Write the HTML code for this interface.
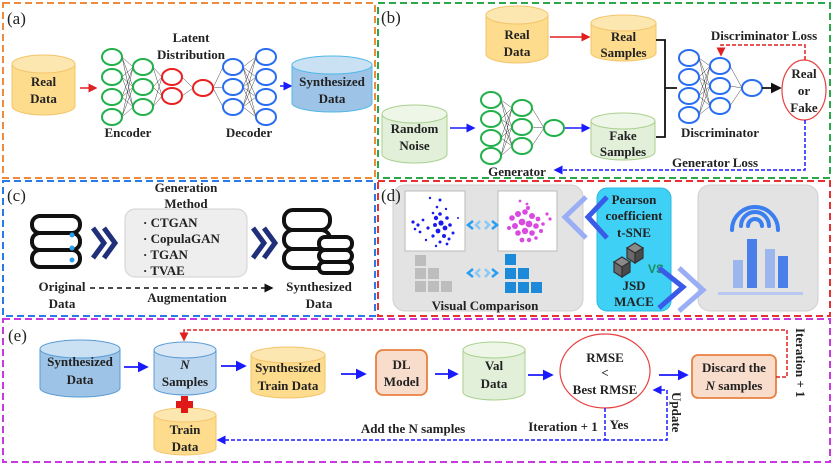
<!DOCTYPE html>
<html><head><meta charset="utf-8"><style>
html,body{margin:0;padding:0;background:#fff;}
svg{display:block;}
text{font-family:"Liberation Serif",serif;font-weight:bold;fill:#222;}
</style></head><body>
<svg width="834" height="466" viewBox="0 0 834 466" xmlns="http://www.w3.org/2000/svg">
<defs>
<marker id="ar" markerWidth="6" markerHeight="6" refX="5" refY="3" orient="auto"><path d="M0,0 L6,3 L0,6 z" fill="#e02020"/></marker>
<marker id="ab" markerWidth="6" markerHeight="6" refX="5" refY="3" orient="auto"><path d="M0,0 L6,3 L0,6 z" fill="#1a1aff"/></marker>
<marker id="ak" markerWidth="6" markerHeight="6" refX="5" refY="3" orient="auto"><path d="M0,0 L6,3 L0,6 z" fill="#111"/></marker>
</defs>

<rect x="3" y="3" width="372" height="175" fill="none" stroke="#f08a3c" stroke-width="2" stroke-dasharray="7,4"/>
<rect x="378" y="3" width="452" height="175" fill="none" stroke="#2aa84a" stroke-width="2" stroke-dasharray="7,4"/>
<rect x="3" y="181" width="372" height="135" fill="none" stroke="#2a7ae8" stroke-width="2" stroke-dasharray="7,4"/>
<rect x="378" y="181" width="452" height="135" fill="none" stroke="#e83030" stroke-width="2" stroke-dasharray="7,4"/>
<rect x="3" y="319" width="827" height="143" fill="none" stroke="#c83ae0" stroke-width="2" stroke-dasharray="7,4"/>

<!-- (a) -->
<text x="7" y="24" font-size="17" style="font-weight:normal">(a)</text>
<path d="M12 64 V106 A31.5 9 0 0 0 75 106 V64" fill="#fddc8e" stroke="#f3c46a"/>
<ellipse cx="43.5" cy="64" rx="31.5" ry="9" fill="#fde7b0" stroke="#f3c46a"/>
<text x="43.5" y="86" font-size="13" text-anchor="middle">Real</text>
<text x="43.5" y="103" font-size="13" text-anchor="middle">Data</text>
<line x1="80" y1="88" x2="96" y2="88" stroke="#e02020" stroke-width="1.5" marker-end="url(#ar)"/>
<g stroke="#444" stroke-width="0.5">
<line x1="122" y1="57" x2="133" y2="67"/><line x1="122" y1="57" x2="133" y2="87"/><line x1="122" y1="57" x2="133" y2="107"/>
<line x1="122" y1="77" x2="133" y2="67"/><line x1="122" y1="77" x2="133" y2="87"/><line x1="122" y1="77" x2="133" y2="107"/>
<line x1="122" y1="97" x2="133" y2="67"/><line x1="122" y1="97" x2="133" y2="87"/><line x1="122" y1="97" x2="133" y2="107"/>
<line x1="122" y1="117" x2="133" y2="67"/><line x1="122" y1="117" x2="133" y2="87"/><line x1="122" y1="117" x2="133" y2="107"/>
<line x1="153" y1="67" x2="162" y2="77"/><line x1="153" y1="87" x2="162" y2="77"/><line x1="153" y1="107" x2="162" y2="77"/>
<line x1="153" y1="67" x2="162" y2="96"/><line x1="153" y1="87" x2="162" y2="96"/><line x1="153" y1="107" x2="162" y2="96"/>
<line x1="182" y1="77" x2="193" y2="88"/><line x1="182" y1="96" x2="193" y2="88"/>
<line x1="213" y1="88" x2="223" y2="67"/><line x1="213" y1="88" x2="223" y2="87"/><line x1="213" y1="88" x2="223" y2="107"/>
<line x1="243" y1="67" x2="256" y2="57"/><line x1="243" y1="67" x2="256" y2="77"/><line x1="243" y1="67" x2="256" y2="97"/><line x1="243" y1="67" x2="256" y2="117"/>
<line x1="243" y1="87" x2="256" y2="57"/><line x1="243" y1="87" x2="256" y2="77"/><line x1="243" y1="87" x2="256" y2="97"/><line x1="243" y1="87" x2="256" y2="117"/>
<line x1="243" y1="107" x2="256" y2="57"/><line x1="243" y1="107" x2="256" y2="77"/><line x1="243" y1="107" x2="256" y2="97"/><line x1="243" y1="107" x2="256" y2="117"/>
</g>
<g fill="#fff" stroke-width="2">
<g stroke="#22b04a">
<ellipse cx="112" cy="57" rx="10" ry="8"/><ellipse cx="112" cy="77" rx="10" ry="8"/><ellipse cx="112" cy="97" rx="10" ry="8"/><ellipse cx="112" cy="117" rx="10" ry="8"/>
<ellipse cx="143" cy="67" rx="10" ry="8"/><ellipse cx="143" cy="87" rx="10" ry="8"/><ellipse cx="143" cy="107" rx="10" ry="8"/>
</g>
<g stroke="#e82020">
<ellipse cx="172" cy="77" rx="10" ry="8"/><ellipse cx="172" cy="96" rx="10" ry="8"/><ellipse cx="203" cy="88" rx="10" ry="8"/>
</g>
<g stroke="#2a6ef0">
<ellipse cx="233" cy="67" rx="10" ry="8"/><ellipse cx="233" cy="87" rx="10" ry="8"/><ellipse cx="233" cy="107" rx="10" ry="8"/>
<ellipse cx="266" cy="57" rx="10" ry="8"/><ellipse cx="266" cy="77" rx="10" ry="8"/><ellipse cx="266" cy="97" rx="10" ry="8"/><ellipse cx="266" cy="117" rx="10" ry="8"/>
</g>
</g>
<text x="191" y="42" font-size="13" text-anchor="middle">Latent</text>
<text x="191" y="59" font-size="13" text-anchor="middle">Distribution</text>
<text x="128" y="137" font-size="13" text-anchor="middle">Encoder</text>
<text x="249" y="137" font-size="13" text-anchor="middle">Decoder</text>
<line x1="280" y1="86" x2="291" y2="86" stroke="#1a1aff" stroke-width="1.5" marker-end="url(#ab)"/>
<path d="M292 65 V103 A40 9 0 0 0 372 103 V65" fill="#9dc3e6" stroke="#4fb8e8"/>
<ellipse cx="332" cy="65" rx="40" ry="9" fill="#c9e1f3" stroke="#4fb8e8"/>
<text x="332" y="86" font-size="13" text-anchor="middle">Synthesized</text>
<text x="332" y="103" font-size="13" text-anchor="middle">Data</text>

<!-- (b) -->
<text x="381" y="23" font-size="17" style="font-weight:normal">(b)</text>
<path d="M486 15 V54 A31 9 0 0 0 548 54 V15" fill="#fddc8e" stroke="#f3c46a"/>
<ellipse cx="517" cy="15" rx="31" ry="9" fill="#fde7b0" stroke="#f3c46a"/>
<text x="517" y="39" font-size="13" text-anchor="middle">Real</text>
<text x="517" y="56" font-size="13" text-anchor="middle">Data</text>
<line x1="550" y1="37" x2="589" y2="37" stroke="#e02020" stroke-width="1.5" marker-end="url(#ar)"/>
<path d="M591 23 V53 A32.5 8 0 0 0 656 53 V23" fill="#fddc8e" stroke="#f3c46a"/>
<ellipse cx="623.5" cy="23" rx="32.5" ry="8" fill="#fde7b0" stroke="#f3c46a"/>
<text x="623.5" y="41" font-size="13" text-anchor="middle">Real</text>
<text x="623.5" y="57" font-size="13" text-anchor="middle">Samples</text>
<path d="M382 114 V154 A32.5 9 0 0 0 447 154 V114" fill="#e2efd9" stroke="#a8d08d"/>
<ellipse cx="414.5" cy="114" rx="32.5" ry="9" fill="#eef6e8" stroke="#a8d08d"/>
<text x="414.5" y="133" font-size="13" text-anchor="middle">Random</text>
<text x="414.5" y="150" font-size="13" text-anchor="middle">Noise</text>
<line x1="450" y1="128" x2="474" y2="128" stroke="#1a1aff" stroke-width="1.5" marker-end="url(#ab)"/>
<g stroke="#444" stroke-width="0.5">
<line x1="501" y1="100" x2="512" y2="108"/><line x1="501" y1="100" x2="512" y2="127"/><line x1="501" y1="100" x2="512" y2="146"/>
<line x1="501" y1="119" x2="512" y2="108"/><line x1="501" y1="119" x2="512" y2="127"/><line x1="501" y1="119" x2="512" y2="146"/>
<line x1="501" y1="138" x2="512" y2="108"/><line x1="501" y1="138" x2="512" y2="127"/><line x1="501" y1="138" x2="512" y2="146"/>
<line x1="501" y1="156" x2="512" y2="108"/><line x1="501" y1="156" x2="512" y2="127"/><line x1="501" y1="156" x2="512" y2="146"/>
<line x1="532" y1="108" x2="544" y2="128"/><line x1="532" y1="127" x2="544" y2="128"/><line x1="532" y1="146" x2="544" y2="128"/>
<line x1="699" y1="58" x2="710" y2="66"/><line x1="699" y1="58" x2="710" y2="86"/><line x1="699" y1="58" x2="710" y2="106"/>
<line x1="699" y1="77" x2="710" y2="66"/><line x1="699" y1="77" x2="710" y2="86"/><line x1="699" y1="77" x2="710" y2="106"/>
<line x1="699" y1="96" x2="710" y2="66"/><line x1="699" y1="96" x2="710" y2="86"/><line x1="699" y1="96" x2="710" y2="106"/>
<line x1="699" y1="115" x2="710" y2="66"/><line x1="699" y1="115" x2="710" y2="86"/><line x1="699" y1="115" x2="710" y2="106"/>
<line x1="730" y1="66" x2="742" y2="88"/><line x1="730" y1="86" x2="742" y2="88"/><line x1="730" y1="106" x2="742" y2="88"/>
</g>
<g fill="#fff" stroke-width="2">
<g stroke="#22b04a">
<ellipse cx="491" cy="100" rx="10" ry="8"/><ellipse cx="491" cy="119" rx="10" ry="8"/><ellipse cx="491" cy="138" rx="10" ry="8"/><ellipse cx="491" cy="156" rx="10" ry="8"/>
<ellipse cx="522" cy="108" rx="10" ry="8"/><ellipse cx="522" cy="127" rx="10" ry="8"/><ellipse cx="522" cy="146" rx="10" ry="8"/>
<ellipse cx="554" cy="128" rx="10" ry="8"/>
</g>
<g stroke="#2a6ef0">
<ellipse cx="689" cy="58" rx="10" ry="8"/><ellipse cx="689" cy="77" rx="10" ry="8"/><ellipse cx="689" cy="96" rx="10" ry="8"/><ellipse cx="689" cy="115" rx="10" ry="8"/>
<ellipse cx="720" cy="66" rx="10" ry="8"/><ellipse cx="720" cy="86" rx="10" ry="8"/><ellipse cx="720" cy="106" rx="10" ry="8"/>
<ellipse cx="752" cy="88" rx="10" ry="8"/>
</g>
</g>
<line x1="565" y1="128" x2="589" y2="128" stroke="#1a1aff" stroke-width="1.5" marker-end="url(#ab)"/>
<path d="M591 121 V152 A32 8 0 0 0 655 152 V121" fill="#e2efd9" stroke="#a8d08d"/>
<ellipse cx="623" cy="121" rx="32" ry="8" fill="#eef6e8" stroke="#a8d08d"/>
<text x="623" y="140" font-size="13" text-anchor="middle">Fake</text>
<text x="623" y="156" font-size="13" text-anchor="middle">Samples</text>
<path d="M656 40 H665 V137 H656 M665 88 H677" fill="none" stroke="#111" stroke-width="1.8"/>
<line x1="762" y1="88" x2="780" y2="88" stroke="#111" stroke-width="1.8" marker-end="url(#ak)"/>
<ellipse cx="804" cy="90" rx="22" ry="30" fill="#fff" stroke="#e84040" stroke-width="1.2"/>
<text x="804" y="78" font-size="13" text-anchor="middle">Real</text>
<text x="804" y="95" font-size="13" text-anchor="middle">or</text>
<text x="804" y="112" font-size="13" text-anchor="middle">Fake</text>
<path d="M805 60 V45 H721 V55" fill="none" stroke="#e02020" stroke-width="1.5" stroke-dasharray="4,2" marker-end="url(#ar)"/>
<text x="764" y="40" font-size="13" text-anchor="middle">Discriminator Loss</text>
<text x="720" y="137" font-size="13" text-anchor="middle">Discriminator</text>
<path d="M805 120 V170 H555" fill="none" stroke="#1a1aff" stroke-width="1.5" stroke-dasharray="4,2" marker-end="url(#ab)"/>
<text x="715" y="167" font-size="13" text-anchor="middle">Generator Loss</text>
<text x="517" y="176" font-size="13" text-anchor="middle">Generator</text>

<!-- (c) -->
<text x="7" y="201" font-size="17" style="font-weight:normal">(c)</text>
<text x="186" y="192" font-size="13" text-anchor="middle">Generation</text>
<text x="186" y="208" font-size="13" text-anchor="middle">Method</text>
<g fill="#fff" stroke="#111" stroke-width="4">
<rect x="32" y="216" width="48" height="17" rx="8"/>
<rect x="32" y="233" width="48" height="17" rx="8"/>
<rect x="32" y="250" width="48" height="17" rx="8"/>
</g>
<g fill="#2a9ff0"><circle cx="72" cy="235" r="2.5"/><circle cx="72" cy="248" r="2.5"/><circle cx="72" cy="260" r="2.5"/></g>
<g fill="none" stroke="#1f2f7a" stroke-width="5">
<polyline points="93,228 104,243 93,258"/><polyline points="104,228 115,243 104,258"/>
<polyline points="253,228 264,243 253,258"/><polyline points="264,228 275,243 264,258"/>
</g>
<rect x="125" y="209" width="122" height="68" rx="10" fill="#eeeeee" stroke="#d0d0d0"/>
<text x="143" y="227" font-size="13">· CTGAN</text>
<text x="143" y="243" font-size="13">· CopulaGAN</text>
<text x="143" y="259" font-size="13">· TGAN</text>
<text x="143" y="275" font-size="13">· TVAE</text>
<g fill="#fff" stroke="#111" stroke-width="4">
<rect x="284" y="210" width="46" height="20" rx="9"/>
<rect x="284" y="230" width="46" height="19" rx="9"/>
<rect x="284" y="249" width="46" height="19" rx="9"/>
<rect x="319" y="237" width="33" height="13" rx="6"/>
<rect x="319" y="250" width="33" height="12" rx="6"/>
<rect x="319" y="262" width="33" height="11" rx="5"/>
</g>
<text x="62" y="291" font-size="13" text-anchor="middle">Original</text>
<text x="62" y="308" font-size="13" text-anchor="middle">Data</text>
<line x1="90" y1="288" x2="272" y2="288" stroke="#111" stroke-width="1.5" stroke-dasharray="5,4" marker-end="url(#ak)"/>
<text x="187" y="302" font-size="13" text-anchor="middle">Augmentation</text>
<text x="319" y="291" font-size="13" text-anchor="middle">Synthesized</text>
<text x="319" y="308" font-size="13" text-anchor="middle">Data</text>

<!-- (d) -->
<rect x="393" y="185" width="190" height="126" rx="12" fill="#e3e3e3" stroke="#cfcfcf"/>
<text x="381" y="201" font-size="17" style="font-weight:normal">(d)</text>
<rect x="405" y="191" width="60" height="60" fill="#fff" stroke="#bbb"/>
<rect x="498" y="191" width="59" height="60" fill="#fff" stroke="#bbb"/>
<g fill="#1a1af0">
<circle cx="430" cy="198" r="1.2"/><circle cx="440" cy="200" r="1.5"/><circle cx="437" cy="207" r="1.3"/><circle cx="446" cy="209" r="1.2"/>
<circle cx="413" cy="222" r="1.6"/><circle cx="418" cy="225" r="1.6"/><circle cx="423" cy="220" r="1.4"/><circle cx="428" cy="228" r="1.6"/>
<circle cx="436" cy="218" r="2.2"/><circle cx="441" cy="223" r="2.6"/><circle cx="445" cy="228" r="2.4"/><circle cx="438" cy="231" r="2.4"/>
<circle cx="444" cy="236" r="2"/><circle cx="450" cy="225" r="1.8"/><circle cx="453" cy="233" r="1.5"/><circle cx="433" cy="236" r="1.6"/>
<circle cx="440" cy="242" r="1.5"/><circle cx="447" cy="244" r="1.4"/><circle cx="433" cy="213" r="1.3"/><circle cx="420" cy="232" r="1.4"/>
<circle cx="458" cy="218" r="1"/><circle cx="426" cy="240" r="1.2"/><circle cx="440" cy="214" r="1.8"/><circle cx="447" cy="218" r="1.8"/>
<circle cx="435" cy="225" r="2"/><circle cx="449" cy="239" r="1.5"/><circle cx="415" cy="229" r="1.3"/><circle cx="436" cy="246" r="1.2"/>
</g>
<g fill="#d84ae0">
<circle cx="520" cy="201" r="1.4"/><circle cx="527" cy="204" r="1.4"/><circle cx="547" cy="214" r="1.6"/><circle cx="550" cy="219" r="1.6"/>
<circle cx="512" cy="218" r="2.8"/><circle cx="518" cy="214" r="3"/><circle cx="525" cy="212" r="2.8"/><circle cx="532" cy="216" r="3"/>
<circle cx="515" cy="226" r="3"/><circle cx="522" cy="222" r="3.4"/><circle cx="529" cy="224" r="3.4"/><circle cx="536" cy="226" r="2.8"/>
<circle cx="518" cy="233" r="2.8"/><circle cx="525" cy="231" r="3.2"/><circle cx="532" cy="233" r="2.8"/><circle cx="538" cy="219" r="2.4"/>
<circle cx="522" cy="240" r="2.4"/><circle cx="529" cy="240" r="2.2"/><circle cx="509" cy="228" r="2"/><circle cx="541" cy="231" r="2"/>
<circle cx="528" cy="208" r="2"/><circle cx="536" cy="238" r="1.8"/><circle cx="543" cy="224" r="1.8"/>
</g>
<g fill="none" stroke-width="2.5">
<polyline points="473,221 468,225 473,229" stroke="#2a9ff0"/><polyline points="480,221 476,225 480,229" stroke="#8cc8f5"/>
<polyline points="485,221 489,225 485,229" stroke="#8cc8f5"/><polyline points="492,221 497,225 492,229" stroke="#2a9ff0"/>
<polyline points="473,269 468,273 473,277" stroke="#2a9ff0"/><polyline points="480,269 476,273 480,277" stroke="#8cc8f5"/>
<polyline points="485,269 489,273 485,277" stroke="#8cc8f5"/><polyline points="492,269 497,273 492,277" stroke="#2a9ff0"/>
</g>
<g fill="#bdbdbd">
<rect x="415" y="255" width="11" height="11"/><rect x="415" y="268" width="11" height="11"/><rect x="415" y="281" width="11" height="11"/>
<rect x="428" y="268" width="11" height="11"/><rect x="428" y="281" width="11" height="11"/><rect x="441" y="281" width="11" height="11"/>
</g>
<g fill="#1c8ad8">
<rect x="505" y="254" width="11" height="11"/><rect x="505" y="268" width="11" height="11"/><rect x="505" y="282" width="11" height="11"/>
<rect x="518" y="268" width="11" height="11"/><rect x="518" y="282" width="11" height="11"/><rect x="531" y="282" width="11" height="11"/>
</g>
<text x="485" y="310" font-size="13" text-anchor="middle">Visual Comparison</text>
<polyline points="586,197 565,217 586,238" fill="none" stroke="#9aaef5" stroke-width="5"/>
<rect x="597" y="188" width="74" height="123" rx="10" fill="#3fd0f5" stroke="#2ab8e0"/>
<polyline points="607,197 588,217 607,238" fill="none" stroke="#3a5ae8" stroke-width="5"/>
<text x="634" y="204" font-size="13" text-anchor="middle">Pearson</text>
<text x="634" y="220" font-size="13" text-anchor="middle">coefficient</text>
<text x="634" y="237" font-size="13" text-anchor="middle">t-SNE</text>
<g stroke="#333" stroke-width="1.2">
<path d="M627 248 l8 -5 l8 5 l-8 5 z" fill="#8a8a8a"/><path d="M627 248 v10 l8 5 v-10 z" fill="#6a6a6a"/><path d="M643 248 v10 l-8 5 v-10 z" fill="#4a4a4a"/>
<path d="M614 262 l8 -5 l8 5 l-8 5 z" fill="#8a8a8a"/><path d="M614 262 v10 l8 5 v-10 z" fill="#6a6a6a"/><path d="M630 262 v10 l-8 5 v-10 z" fill="#4a4a4a"/>
</g>
<text x="648" y="273" font-size="12" style="fill:#1a8c5a;font-family:'Liberation Sans',sans-serif">VS</text>
<text x="634" y="290" font-size="13" text-anchor="middle">JSD</text>
<text x="634" y="306" font-size="13" text-anchor="middle">MACE</text>
<rect x="698" y="185" width="120" height="126" rx="12" fill="#e3e3e3" stroke="#cfcfcf"/>
<polyline points="659,268 683,287 659,308" fill="none" stroke="#3a5ae8" stroke-width="5"/>
<polyline points="679,268 703,290 679,311" fill="none" stroke="#9aaef5" stroke-width="5"/>
<g fill="none" stroke="#3a7ef0" stroke-width="4" stroke-linecap="round">
<path d="M748 226 A7 7 0 0 1 762 226"/>
<path d="M741 226 A14 14 0 0 1 769 226"/>
<path d="M732 230 A23 23 0 0 1 778 230"/>
</g>
<rect x="733" y="260" width="10" height="28" fill="#9cb6ee"/>
<rect x="747" y="239" width="10" height="49" fill="#4a7ee8"/>
<rect x="765" y="249" width="10" height="39" fill="#9cb6ee"/>
<rect x="778" y="256" width="10" height="32" fill="#4a7ee8"/>
<rect x="718" y="292" width="85" height="3" fill="#b8c8f0"/>

<!-- (e) -->
<text x="8" y="341" font-size="17" style="font-weight:normal">(e)</text>
<path d="M40 349 V388 A40 9 0 0 0 120 388 V349" fill="#9dc3e6" stroke="#5b9bd5"/>
<ellipse cx="80" cy="349" rx="40" ry="9" fill="#c9e1f3" stroke="#5b9bd5"/>
<text x="80" y="366" font-size="13" text-anchor="middle">Synthesized</text>
<text x="80" y="384" font-size="13" text-anchor="middle">Data</text>
<line x1="124" y1="367" x2="147" y2="367" stroke="#1a1aff" stroke-width="1.8" marker-end="url(#ab)"/>
<path d="M154 350 V387 A31 8 0 0 0 216 387 V350" fill="#bdd7ee" stroke="#5b9bd5"/>
<ellipse cx="185" cy="350" rx="31" ry="8" fill="#dbe9f6" stroke="#5b9bd5"/>
<text x="185" y="369" font-size="13" text-anchor="middle" style="font-style:italic">N</text>
<text x="185" y="386" font-size="13" text-anchor="middle">Samples</text>
<path d="M154 415 V448 A31 7 0 0 0 216 448 V415" fill="#fddc8e" stroke="#f3c46a"/>
<ellipse cx="185" cy="415" rx="31" ry="7" fill="#fde7b0" stroke="#f3c46a"/>
<text x="185" y="434" font-size="13" text-anchor="middle">Train</text>
<text x="185" y="451" font-size="13" text-anchor="middle">Data</text>
<path d="M181 396 h7 v5 h5 v7 h-5 v5 h-7 v-5 h-5 v-7 h5 z" fill="#e01818"/>
<line x1="221" y1="366" x2="245" y2="366" stroke="#1a1aff" stroke-width="1.8" marker-end="url(#ab)"/>
<path d="M251 355 V390 A37 8 0 0 0 325 390 V355" fill="#fddc8e" stroke="#f3c46a"/>
<ellipse cx="288" cy="355" rx="37" ry="8" fill="#fde7b0" stroke="#f3c46a"/>
<text x="288" y="372" font-size="13" text-anchor="middle">Synthesized</text>
<text x="288" y="390" font-size="13" text-anchor="middle">Train Data</text>
<line x1="341" y1="374" x2="365" y2="374" stroke="#1a1aff" stroke-width="1.8" marker-end="url(#ab)"/>
<rect x="376" y="350" width="51" height="45" rx="7" fill="#f8dccc" stroke="#e88040" stroke-width="1.8"/>
<text x="401.5" y="369" font-size="13" text-anchor="middle">DL</text>
<text x="401.5" y="386" font-size="13" text-anchor="middle">Model</text>
<line x1="435" y1="374" x2="457" y2="374" stroke="#1a1aff" stroke-width="1.8" marker-end="url(#ab)"/>
<path d="M463 350 V392 A31 8 0 0 0 525 392 V350" fill="#e2efd9" stroke="#a8d08d"/>
<ellipse cx="494" cy="350" rx="31" ry="8" fill="#eef6e8" stroke="#a8d08d"/>
<text x="494" y="370" font-size="13" text-anchor="middle">Val</text>
<text x="494" y="388" font-size="13" text-anchor="middle">Data</text>
<line x1="528" y1="375" x2="552" y2="375" stroke="#1a1aff" stroke-width="1.8" marker-end="url(#ab)"/>
<ellipse cx="605" cy="371" rx="45" ry="37" fill="#fff" stroke="#e84040" stroke-width="1.2"/>
<text x="605" y="362" font-size="13" text-anchor="middle">RMSE</text>
<text x="605" y="377" font-size="13" text-anchor="middle">&lt;</text>
<text x="605" y="394" font-size="13" text-anchor="middle">Best RMSE</text>
<line x1="659" y1="375" x2="687" y2="375" stroke="#1a1aff" stroke-width="1.8" marker-end="url(#ab)"/>
<rect x="692" y="355" width="84" height="43" rx="6" fill="#f8dccc" stroke="#e88040" stroke-width="1.8"/>
<text x="734" y="372" font-size="13" text-anchor="middle">Discard the</text>
<text x="734" y="390" font-size="13" text-anchor="middle"><tspan style="font-style:italic">N</tspan> samples</text>
<path d="M776 377 H787 V330 H184 V340" fill="none" stroke="#e02020" stroke-width="1.5" stroke-dasharray="4,2" marker-end="url(#ar)"/>
<text transform="translate(796,328) rotate(90)" font-size="13">Iteration + 1</text>
<path d="M605 408 V440 H218" fill="none" stroke="#1a1aff" stroke-width="1.5" stroke-dasharray="4,2" marker-end="url(#ab)"/>
<path d="M605 440 H667 V390 H654" fill="none" stroke="#1a1aff" stroke-width="1.5" stroke-dasharray="4,2" marker-end="url(#ab)"/>
<text transform="translate(672,392) rotate(90)" font-size="13">Update</text>
<text x="563" y="431" font-size="13" text-anchor="middle">Iteration + 1</text>
<text x="619" y="429" font-size="13" text-anchor="middle">Yes</text>
<text x="413" y="433" font-size="13" text-anchor="middle">Add the N samples</text>
</svg>
</body></html>
